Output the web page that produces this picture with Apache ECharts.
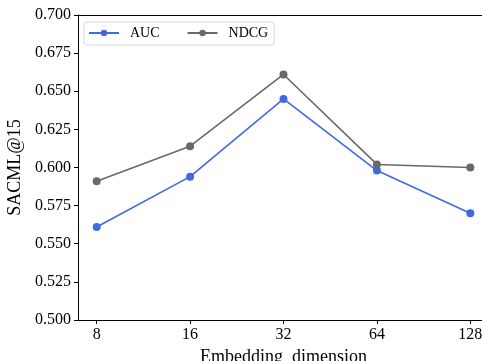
<!DOCTYPE html>
<html>
<head>
<meta charset="utf-8">
<script src="https://cdn.jsdelivr.net/npm/echarts@6/dist/echarts.min.js"></script>
<style>
  html, body { margin: 0; padding: 0; background: #fff; overflow: hidden; }
  #chart { width: 490px; height: 361px; }
</style>
</head>
<body>
<div id="chart"></div>
<script>
// 数据
const dims = ['8', '16', '32', '64', '128'];
const aucData = [0.561, 0.594, 0.645, 0.598, 0.570];
const ndcgData = [0.591, 0.614, 0.661, 0.602, 0.600];

const serif = '"Liberation Serif", "DejaVu Serif", serif';
let myChart = echarts.init(document.getElementById('chart'));

let option = {
  animation: false,
  textStyle: { fontFamily: serif },
  grid: {
    left: 78,
    top: 15,
    right: 1,
    bottom: 41,
    outerBoundsMode: 'none',
    containLabel: false
  },
  legend: {
    left: 84,
    top: 22,
    orient: 'horizontal',
    data: ['AUC', 'NDCG'],
    itemWidth: 30,
    itemHeight: 8,
    itemGap: 27,
    padding: [4, 6, 5, 4],
    backgroundColor: '#fff',
    borderColor: '#d8d8d8',
    borderWidth: 1,
    borderRadius: 3,
    textStyle: { fontFamily: serif, fontSize: 14, color: '#000', padding: [0, 0, 0, 6] }
  },
  xAxis: [
    {
      type: 'value',
      min: -0.2,
      max: 4.2,
      name: 'Embedding  dimension',
      nameLocation: 'middle',
      nameGap: 27,
      nameTextStyle: { fontFamily: serif, fontSize: 18, color: '#000' },
      splitLine: { show: false },
      axisLine: { onZero: false, lineStyle: { color: '#000', width: 1 } },
      axisTick: {
        customValues: [0, 1, 2, 3, 4],
        length: 4,
        lineStyle: { color: '#000' }
      },
      axisLabel: {
        customValues: [0, 1, 2, 3, 4],
        formatter: v => dims[v],
        fontFamily: serif,
        fontSize: 16,
        color: '#000',
        margin: 7
      }
    },
    {
      // 上边框
      type: 'value',
      position: 'top',
      min: -0.2,
      max: 4.2,
      splitLine: { show: false },
      axisLine: { show: true, onZero: false, lineStyle: { color: '#000', width: 1 } },
      axisTick: { show: false },
      axisLabel: { show: false }
    }
  ],
  yAxis: {
    type: 'value',
    min: 0.5,
    max: 0.7,
    interval: 0.025,
    name: 'SACML@15',
    nameLocation: 'middle',
    nameGap: 45,
    nameRotate: 90,
    nameTextStyle: { fontFamily: serif, fontSize: 18, color: '#000' },
    splitLine: { show: false },
    axisLine: { show: true, onZero: false, lineStyle: { color: '#000', width: 1 } },
    axisTick: { show: true, length: 4, lineStyle: { color: '#000' } },
    axisLabel: {
      formatter: v => v.toFixed(3),
      fontFamily: serif,
      fontSize: 16,
      color: '#000',
      margin: 7
    }
  },
  series: [
    {
      name: 'AUC',
      type: 'line',
      data: aucData.map((v, i) => [i, v]),
      symbol: 'circle',
      symbolSize: 8,
      lineStyle: { color: '#4169e1', width: 1.6 },
      itemStyle: { color: '#4169e1' }
    },
    {
      name: 'NDCG',
      type: 'line',
      data: ndcgData.map((v, i) => [i, v]),
      symbol: 'circle',
      symbolSize: 8,
      lineStyle: { color: '#696969', width: 1.6 },
      itemStyle: { color: '#696969' }
    }
  ]
};

myChart.setOption(option);
window.addEventListener('resize', function () {
  myChart.resize();
});
</script>
</body>
</html>
